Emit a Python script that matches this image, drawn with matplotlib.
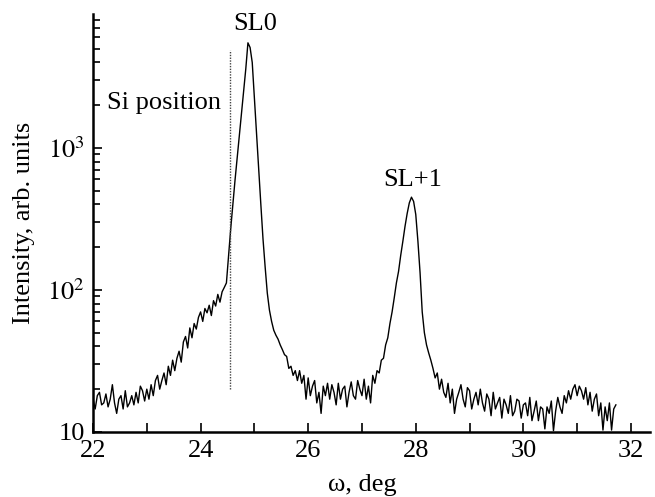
import matplotlib.pyplot as plt
import numpy as np

plt.rcParams['font.family'] = ['Liberation Serif', 'DejaVu Serif']
plt.rcParams['mathtext.fontset'] = 'stix'
plt.rcParams.update({'font.size': 19})

# rocking curve, one value every 0.04 deg starting at 22.00 deg
omega_start = 22.0
omega_step = 0.04
intensity = [
    17, 14.5, 18, 19, 15.5, 16, 18.5, 15, 17, 21.5,
    16, 13.5, 17, 18, 14.5, 19.5, 15, 16, 18, 15.5,
    19, 16, 21, 19.5, 16.5, 20, 17, 21.5, 18, 23,
    25, 20, 23, 26, 21.5, 29, 25, 32, 27, 33,
    37, 31, 43, 47, 39, 54, 46, 58, 53, 64,
    70, 60, 74, 69, 78, 66, 84, 77, 93, 82,
    97, 104, 112, 175, 270, 400, 593, 850, 1220, 1750,
    2500, 3600, 5500, 5100, 4000, 2240, 1230, 684, 400, 229,
    145, 95, 72, 60, 52, 48, 45, 41, 38, 35,
    34, 28, 29, 25, 27, 23, 27, 22, 25, 17,
    24, 18, 21, 23, 16, 19, 13.5, 21, 18, 22,
    17, 21.5, 19, 15.5, 22, 17, 20, 21, 15, 19,
    22.5, 18, 17, 23, 20, 18, 23.5, 17, 21, 16,
    25, 22, 27, 26, 32, 33, 41, 46, 58, 70,
    88, 112, 135, 175, 220, 280, 345, 410, 450, 420,
    340, 220, 132, 70, 50, 41, 36, 32, 28, 24,
    26, 20, 23.5, 19, 17.5, 22, 16, 20, 13.5, 17,
    19, 21.5, 17, 15, 20.5, 19.5, 14.5, 17, 19, 15.5,
    20, 16, 14, 18.5, 17, 13, 19, 14.5, 16, 17.5,
    12.5, 17, 15.5, 13.5, 18, 13, 14, 17, 16.5, 12.5,
    15.5, 16, 13, 17.5, 12, 14, 16.5, 12, 15, 14.5,
    10.5, 15, 13.5, 16.5, 10.2, 14, 17.5, 15, 13.5, 18,
    16, 19.5, 17, 20, 21.5, 18, 21, 19.5, 17, 20.5,
    15.5, 19, 14, 17, 18.5, 13, 16, 10.3, 15, 12,
    16, 10.3, 14.5, 15.5,
]
omega = omega_start + omega_step * np.arange(len(intensity))

si_position = 24.55
si_line_range = [20, 4900]

fig = plt.figure(figsize=(6.55, 4.97), dpi=100)
ax = fig.add_axes([0.142, 0.131, 0.85, 0.841])

ax.plot(omega, intensity, color='black', lw=1.0)
ax.plot([si_position, si_position], si_line_range, color='#444444', lw=1.0, ls=(0, (1, 1)))

ax.set_yscale('log')
ax.set_xlim(22, 32.35)
ax.set_ylim(10, 8790)

ax.set_xticks([22, 24, 26, 28, 30, 32])
ax.set_xticks([23, 25, 27, 29, 31], minor=True)
ax.set_yticks([10, 100, 1000])
ax.set_yticklabels(['10', '$10^2$', '$10^3$'])
ax.tick_params(which='both', direction='in', width=1.2, pad=6)
ax.tick_params(which='major', length=6.5)
ax.tick_params(which='minor', length=5)
ax.tick_params(axis='x', which='minor', length=6.5)

for s in ['top', 'right']:
    ax.spines[s].set_visible(False)
for s in ['left', 'bottom']:
    ax.spines[s].set_linewidth(1.8)

ax.text(25.01, 7500, 'SL0', ha='center', va='center')
ax.text(22.26, 2070, 'Si position', ha='left', va='center')
ax.text(27.95, 596, 'SL+1', ha='center', va='center')

ax.set_xlabel('ω, deg')
ax.set_ylabel('Intensity, arb. units')
ax.xaxis.set_label_coords(0.483, -0.1)
ax.yaxis.set_label_coords(-0.105, 0.5)

plt.savefig('out.png', dpi=100)
